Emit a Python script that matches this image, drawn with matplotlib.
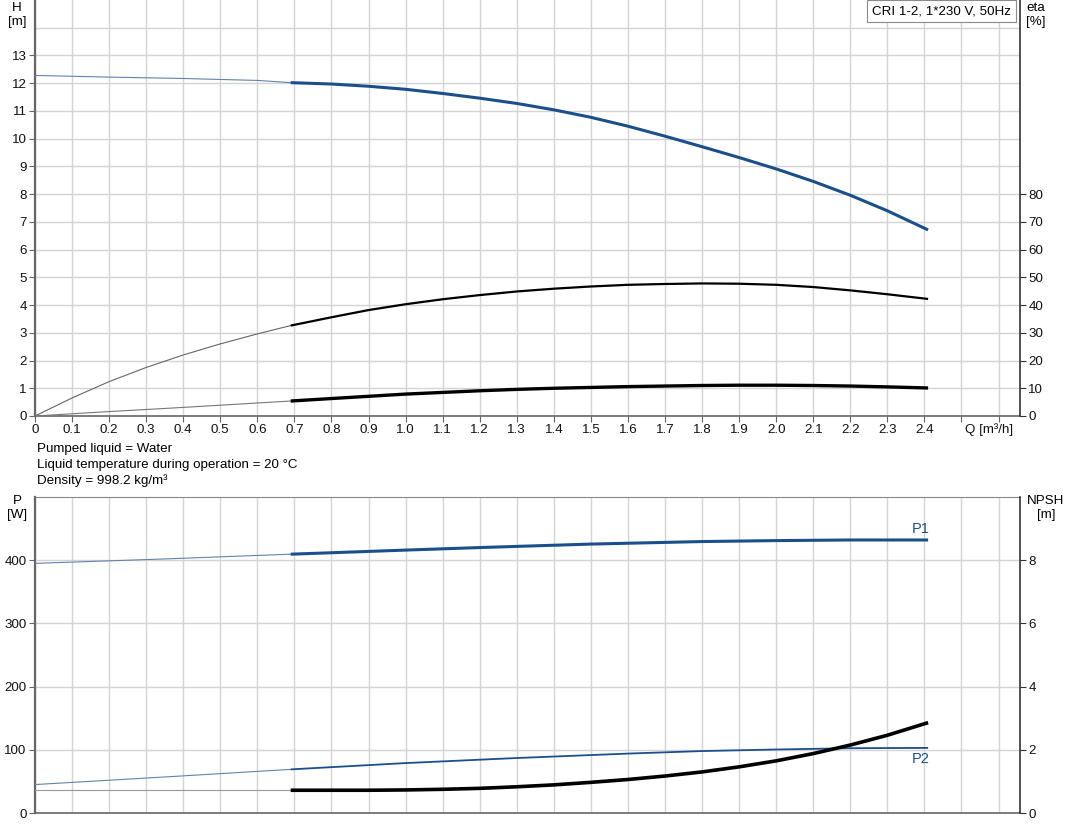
import numpy as np
import matplotlib.pyplot as plt

plt.rcParams['font.family'] = ['Liberation Sans', 'DejaVu Sans']
plt.rcParams['font.size'] = 9.6

# ==================== data ====================
q_h = [0, 0.2, 0.4, 0.6, 0.69, 0.8, 0.9, 1.0, 1.1, 1.2, 1.3, 1.4, 1.5, 1.6, 1.7,
       1.8, 1.9, 2.0, 2.1, 2.2, 2.3, 2.41]
head = [12.28, 12.22, 12.17, 12.10, 12.02, 11.97, 11.89, 11.78, 11.63, 11.46, 11.27,
        11.04, 10.77, 10.45, 10.09, 9.71, 9.32, 8.91, 8.46, 7.96, 7.40, 6.71]

q_eta = [0, 0.1, 0.2, 0.3, 0.4, 0.5, 0.6, 0.69, 0.8, 0.9, 1.0, 1.1, 1.2, 1.3, 1.4,
         1.5, 1.6, 1.7, 1.8, 1.9, 2.0, 2.1, 2.2, 2.3, 2.41]
eta = [0, 6.5, 12.4, 17.5, 22.0, 26.0, 29.6, 32.6, 35.6, 38.2, 40.3, 42.1, 43.6, 44.9,
       45.9, 46.7, 47.3, 47.6, 47.8, 47.7, 47.3, 46.5, 45.3, 43.9, 42.2]

q_eta2 = [0, 0.2, 0.4, 0.69, 0.8, 0.9, 1.0, 1.1, 1.2, 1.3, 1.4, 1.5, 1.6, 1.7, 1.8,
          1.9, 2.0, 2.1, 2.2, 2.3, 2.41]
eta2 = [0, 1.6, 3.1, 5.4, 6.3, 7.1, 7.9, 8.5, 9.1, 9.6, 10.0, 10.3, 10.6, 10.8, 11.0,
        11.1, 11.1, 11.0, 10.8, 10.5, 10.1]

q_p1 = [0, 0.35, 0.69, 1.0, 1.2, 1.5, 1.8, 2.0, 2.2, 2.41]
p1 = [395, 402, 409.5, 416, 420, 425.5, 429.5, 431, 432, 432]

q_p2 = [0, 0.35, 0.69, 1.0, 1.3, 1.6, 1.8, 2.0, 2.2, 2.41]
p2 = [45, 57, 69, 79, 87, 94, 98, 100.5, 102.5, 103]

q_npsh = [0, 0.69, 0.8, 0.9, 1.0, 1.1, 1.2, 1.3, 1.4, 1.5, 1.6, 1.7, 1.8, 1.9, 2.0,
          2.1, 2.2, 2.3, 2.41]
npsh = [0.72, 0.72, 0.72, 0.72, 0.73, 0.75, 0.78, 0.83, 0.89, 0.97, 1.06, 1.17, 1.30,
        1.46, 1.65, 1.88, 2.15, 2.46, 2.86]

q_ticks = [round(0.1 * i, 1) for i in range(27)]
q_labels = ['0'] + [f'{v:.1f}' for v in q_ticks[1:25]] + ['', '']
q_split = 0.69

BLUE = '#1a4f8c'
GRID = '#d4d4d4'
SPINE = '#666666'


def split_plot(ax, q, y, color, thin_color, lw=1.9):
    q = np.array(q)
    y = np.array(y)
    lo = q <= q_split
    hi = q >= q_split
    ax.plot(q[lo], y[lo], color=thin_color, lw=0.8, zorder=3)
    ax.plot(q[hi], y[hi], color=color, lw=lw, zorder=4, solid_capstyle='butt',
            solid_joinstyle='round')


def style(ax):
    ax.set_xlim(0, 2.658)
    ax.set_xticks(q_ticks)
    ax.grid(True, color=GRID, lw=1)
    ax.set_axisbelow(True)
    ax.spines['top'].set_visible(False)
    ax.spines['right'].set_visible(False)
    ax.spines['left'].set_color(SPINE)
    ax.spines['left'].set_linewidth(1.6)
    ax.spines['bottom'].set_color(SPINE)
    ax.spines['bottom'].set_linewidth(1.2)
    ax.tick_params(direction='out', length=4, color=SPINE, labelcolor='#111', pad=2)


fig = plt.figure(figsize=(10.71, 8.33), dpi=100)

# ==================== top panel: H / eta ====================
ax1 = fig.add_axes([35 / 1071, 1 - 416 / 833, 985 / 1071, 416 / 833])
style(ax1)
ax1.set_ylim(0, 15)
ax1.set_yticks(range(0, 14))
ax1.axhline(14, color=GRID, lw=1, zorder=0)
ax1.set_xticklabels(q_labels)
split_plot(ax1, q_h, head, BLUE, '#5f84ad', lw=2.2)

ax1r = ax1.twinx()
ax1r.set_ylim(0, 150)
ax1r.set_yticks(range(0, 90, 10))
for s in ['top', 'left', 'bottom']:
    ax1r.spines[s].set_visible(False)
ax1r.spines['right'].set_color('#333333')
ax1r.spines['right'].set_linewidth(1.2)
ax1r.tick_params(direction='out', length=4, color='#333', labelcolor='#111', pad=2)
split_plot(ax1r, q_eta, eta, 'black', '#666666', lw=1.6)
split_plot(ax1r, q_eta2, eta2, 'black', '#777777', lw=2.4)

fig.text(1013 / 1071, 1 - 430 / 833, 'Q [m³/h]', ha='right', va='center', color='#111')
fig.text(17 / 1071, 1 - 2 / 833, 'H\n[m]', ha='center', va='top', linespacing=1.2)
fig.text(1036 / 1071, 1 - 2 / 833, 'eta\n[%]', ha='center', va='top', linespacing=1.2)
fig.text(872 / 1071, 1 - 11 / 833, 'CRI 1-2, 1*230 V, 50Hz', ha='left', va='center',
         bbox=dict(boxstyle='square,pad=0.35', fc='white', ec='#8a8a8a', lw=0.8))

fig.text(37 / 1071, 1 - 449 / 833, 'Pumped liquid = Water', va='center')
fig.text(37 / 1071, 1 - 465 / 833, 'Liquid temperature during operation = 20 °C', va='center')
fig.text(37 / 1071, 1 - 481 / 833, 'Density = 998.2 kg/m³', va='center')

# ==================== bottom panel: P / NPSH ====================
ax2 = fig.add_axes([35 / 1071, 1 - 813 / 833, 985 / 1071, 316 / 833])
style(ax2)
ax2.spines['top'].set_visible(True)
ax2.spines['top'].set_color('#888888')
ax2.set_ylim(0, 500)
ax2.set_yticks(range(0, 500, 100))
ax2.tick_params(axis='x', length=0, labelbottom=False)
split_plot(ax2, q_p1, p1, BLUE, '#5f84ad', lw=2.2)
split_plot(ax2, q_p2, p2, BLUE, '#5f84ad', lw=1.3)
ax2.text(2.39, 438, 'P1', color=BLUE, ha='center', va='bottom', fontsize=10.5)
ax2.text(2.39, 97, 'P2', color=BLUE, ha='center', va='top', fontsize=10.5)

ax2r = ax2.twinx()
ax2r.set_ylim(0, 10)
ax2r.set_yticks(range(0, 10, 2))
for s in ['top', 'left', 'bottom']:
    ax2r.spines[s].set_visible(False)
ax2r.spines['right'].set_color('#333333')
ax2r.spines['right'].set_linewidth(1.2)
ax2r.tick_params(direction='out', length=4, color='#333', labelcolor='#111', pad=2)
split_plot(ax2r, q_npsh, npsh, 'black', '#999999', lw=2.6)

fig.text(17 / 1071, 1 - 495 / 833, 'P\n[W]', ha='center', va='top', linespacing=1.2)
fig.text(1046 / 1071, 1 - 495 / 833, 'NPSH\n[m]', ha='center', va='top', linespacing=1.2)

fig.savefig('out.png', dpi=100)
